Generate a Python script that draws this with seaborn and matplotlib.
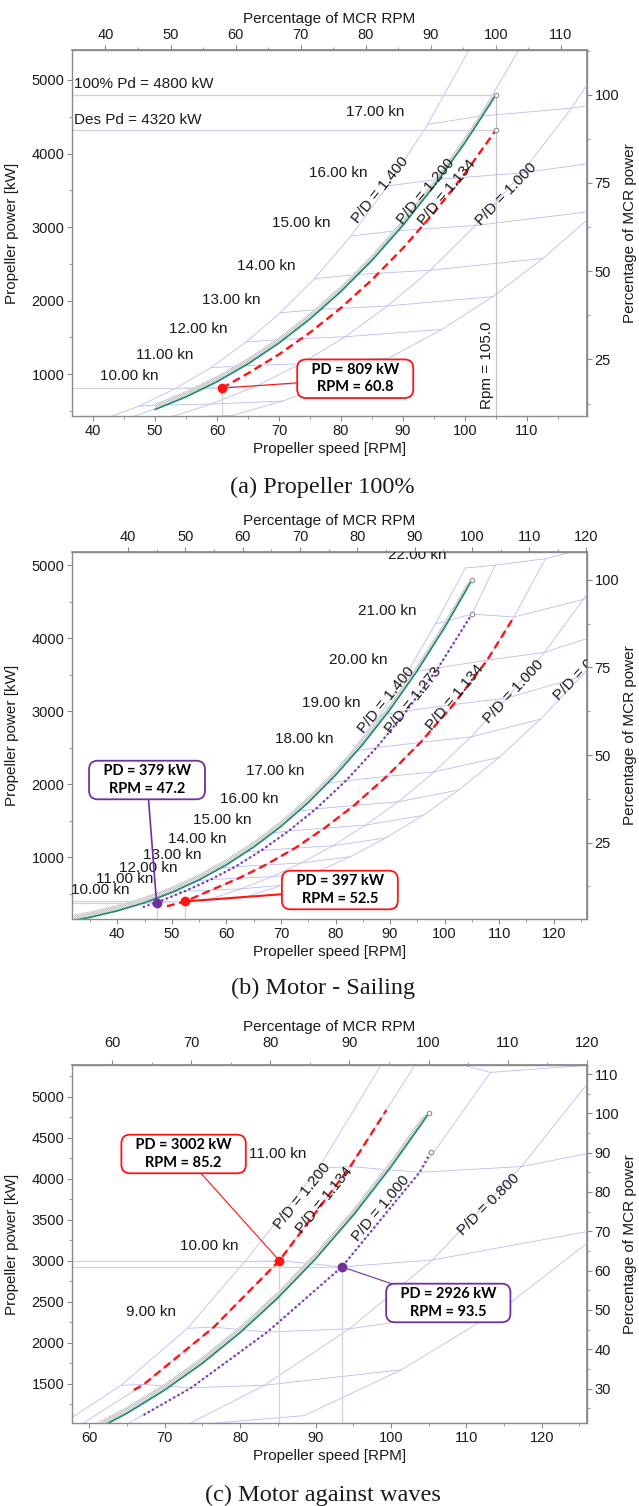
import matplotlib
matplotlib.use("Agg")
import matplotlib.pyplot as plt
import seaborn as sns
from matplotlib.ticker import MultipleLocator, AutoMinorLocator, FixedLocator

sns.set_theme(style="ticks")
plt.rcParams["font.family"] = ["Liberation Sans", "DejaVu Sans"]
plt.rcParams["hatch.linewidth"] = 0.6

MCR_RPM = 105.0
MCR_KW = 4800.0

# ---------------- shared engine curve (green) with hatched margin ----------------
engine_rpm = [32, 35, 40, 45, 50, 55, 60, 65, 70, 75, 80, 85, 90, 95, 100, 104, 105]
engine_kw = [136, 178, 266, 378, 518, 690, 896, 1139, 1422, 1749, 2123, 2546, 3023, 3555, 4146, 4664, 4800]
engine_margin_kw = [216, 258, 346, 458, 598, 770, 976, 1219, 1502, 1829, 2203, 2626, 3103, 3635, 4226, 4744, 4810]

# ---------------- panel (a) Propeller 100% ----------------
a_speed_kn = [8, 9, 10, 11, 12, 13, 14, 15, 16, 17, 18]
a_labeled_kn = [10, 11, 12, 13, 14, 15, 16, 17]
a_pd = ["1.400", "1.200", "1.000", "0.800"]
a_grid_rpm = [
    [41.9, 47.4, 53.2, 59.0, 64.7, 70.2, 75.7, 81.6, 87.5, 94.0, 100.6],
    [45.7, 51.7, 58.0, 64.2, 70.5, 76.5, 82.5, 88.9, 95.4, 102.4, 109.6],
    [52.3, 59.1, 66.4, 73.5, 80.7, 87.5, 94.4, 101.7, 109.2, 117.2, 125.5],
    [62.4, 70.6, 79.2, 87.7, 96.3, 104.5, 112.6, 121.4, 130.3, 139.0, 148.0],
]
a_grid_kw = [
    [390, 565, 800, 1086, 1436, 1834, 2297, 2877, 3558, 4397, 5400],
    [400, 579, 820, 1113, 1472, 1880, 2354, 2949, 3647, 4507, 5535],
    [410, 593, 840, 1140, 1508, 1926, 2412, 3021, 3736, 4617, 5670],
    [437, 633, 896, 1216, 1608, 2054, 2573, 3222, 3985, 4925, 6048],
]
a_engine_start_rpm = 50
a_red_rpm = [60.8, 65, 70, 75, 80, 85, 90, 95, 100, 105]
a_red_kw = [809, 1010, 1268, 1565, 1900, 2283, 2712, 3193, 3728, 4320]
a_red_point = (60.8, 809)
a_full_pd_kw = 4800
a_des_pd_kw = 4320
a_rpm_limit = 105.0
a_top_ticks = [40, 50, 60, 70, 80, 90, 100, 110]

# ---------------- panel (b) Motor - Sailing ----------------
b_speed_kn = [10, 11, 12, 13, 14, 15, 16, 17, 18, 19, 20, 21, 22]
b_labeled_kn = b_speed_kn
b_pd = ["1.400", "1.273", "1.134", "1.000", "0.800"]
b_grid_rpm = [
    [45.75, 50.2, 54.5, 58.9, 63.5, 68.2, 72.9, 77.8, 83.0, 88.1, 93.1, 98.3, 103.8],
    [47.2, 52.4, 57.1, 61.6, 66.4, 71.4, 76.4, 81.9, 87.5, 93.0, 98.8, 105.0, 109.3],
    [52.5, 57.2, 62.3, 67.2, 72.6, 78.0, 83.4, 89.4, 95.6, 101.6, 107.8, 112.7, 118.5],
    [56.0, 62.7, 68.3, 73.7, 79.5, 85.5, 91.5, 98.1, 104.8, 111.4, 118.3, 125.4, 132.6],
    [62.8, 70.4, 76.7, 82.7, 89.2, 96.0, 102.6, 110.0, 117.6, 125.0, 132.7, 140.6, 148.7],
]
b_grid_kw = [
    [374, 525, 680, 853, 1072, 1333, 1629, 2008, 2451, 2944, 3523, 4194, 4961],
    [379, 536, 694, 870, 1093, 1360, 1662, 2048, 2500, 3003, 3593, 4330, 5000],
    [397, 551, 714, 896, 1126, 1400, 1710, 2108, 2574, 3091, 3699, 4290, 5089],
    [404, 567, 734, 921, 1158, 1440, 1759, 2169, 2647, 3180, 3805, 4530, 5358],
    [441, 620, 802, 1007, 1265, 1573, 1922, 2369, 2892, 3474, 4157, 4949, 5854],
]
b_engine_start_rpm = 32
b_purple_rpm = [44.7, 47.2, 52.4, 57.1, 61.6, 66.4, 71.4, 76.4, 81.9, 87.5, 93.0, 98.8, 105.0]
b_purple_kw = [319, 379, 536, 694, 870, 1093, 1360, 1662, 2048, 2500, 3003, 3593, 4330]
b_red_rpm = [49.1, 52.5, 57.2, 62.3, 67.2, 72.6, 78.0, 83.4, 89.4, 95.6, 101.6, 107.8, 112.7]
b_red_kw = [330, 397, 551, 714, 896, 1126, 1400, 1710, 2108, 2574, 3091, 3699, 4290]
b_purple_point = (47.2, 379)
b_red_point = (52.5, 397)
b_top_ticks = [40, 50, 60, 70, 80, 90, 100, 110, 120]

# ---------------- panel (c) Motor against waves ----------------
c_speed_kn = [7, 8, 9, 10, 11, 12]
c_labeled_kn = [9, 10, 11]
c_pd = ["1.200", "1.134", "1.000", "0.800", "0.600"]
c_grid_rpm = [
    [56.1, 64.2, 73.0, 80.6, 90.4, 99.4],
    [58.9, 67.2, 76.5, 85.2, 94.6, 104.1],
    [64.3, 73.5, 83.6, 93.5, 103.8, 113.2],
    [72.8, 83.2, 94.5, 105.5, 117.3, 128.1],
    [88.5, 101.4, 115.3, 128.6, 142.0, 155.0],
]
c_grid_kw = [
    [990, 1480, 2176, 2989, 4129, 5500],
    [1000, 1490, 2190, 3002, 4150, 5520],
    [970, 1450, 2130, 2926, 4080, 5300],
    [990, 1480, 2170, 3010, 4150, 5400],
    [1110, 1670, 2450, 3400, 4600, 6000],
]
c_engine_start_rpm = 32
c_red_rpm = [65.9, 67.2, 76.5, 85.2, 94.6, 99.4]
c_red_kw = [1423, 1490, 2190, 3002, 4150, 4840]
c_purple_rpm = [67.2, 73.5, 83.6, 93.5, 103.8, 105.3]
c_purple_kw = [1118, 1450, 2130, 2926, 4080, 4332]
c_red_point = (85.2, 3002)
c_purple_point = (93.5, 2926)
c_top_ticks = [60, 70, 80, 90, 100, 110, 120]

# ---------------- styles ----------------
GRID = "#bcbcf4"
REF = "#d2d2de"
GREEN = "#1f8a6e"
RED = "#ff1414"
PURPLE = "#7030a0"
SPINE = "#8a8a8a"
TXT = "#1a1a1a"
BOXFONT = ["Lato", "DejaVu Sans"]
CAPTIONS = ["(a) Propeller 100%", "(b) Motor - Sailing", "(c) Motor against waves"]


def fmt_box(kw, rpm):
    return f"   PD = {kw} kW   \nRPM = {rpm}"


def base_axes(ax, xlim, ylim, xstep, ystep, top_ticks, rstep, toppad, caption, cap_y):
    ax.set_xlim(*xlim)
    ax.set_ylim(*ylim)
    ax.xaxis.set_major_locator(MultipleLocator(xstep))
    ax.yaxis.set_major_locator(MultipleLocator(ystep))
    ax.xaxis.set_minor_locator(AutoMinorLocator(2))
    ax.yaxis.set_minor_locator(AutoMinorLocator(2))
    for s in ax.spines.values():
        s.set_color(SPINE)
        s.set_linewidth(1.0)
    ax.tick_params(which="major", length=3.5, width=0.8, color=SPINE, labelsize=10.5,
                   labelcolor=TXT, pad=2, top=False, right=False)
    ax.tick_params(which="minor", length=2, width=0.6, color=SPINE, top=False, right=False)
    ax.set_xlabel("Propeller speed [RPM]", fontsize=11, color=TXT, labelpad=3)
    ax.set_ylabel("Propeller power [kW]", fontsize=11, color=TXT, labelpad=9)

    secx = ax.secondary_xaxis("top", functions=(lambda r: r / MCR_RPM * 100,
                                                 lambda p: p * MCR_RPM / 100))
    secx.xaxis.set_major_locator(FixedLocator(top_ticks))
    secx.xaxis.set_minor_locator(FixedLocator([t + 5 for t in top_ticks[:-1]]))
    secx.tick_params(which="major", length=3.5, width=0.8, color=SPINE, labelsize=10.5,
                     labelcolor=TXT, pad=toppad)
    secx.tick_params(which="minor", length=2, width=0.6, color=SPINE)
    secx.spines["top"].set_color(SPINE)
    secx.set_xlabel("Percentage of MCR RPM", fontsize=11, color=TXT, labelpad=4)

    secy = ax.secondary_yaxis("right", functions=(lambda k: k / MCR_KW * 100,
                                                   lambda p: p * MCR_KW / 100))
    secy.yaxis.set_major_locator(MultipleLocator(rstep))
    secy.yaxis.set_minor_locator(AutoMinorLocator(2))
    secy.tick_params(which="major", length=3.5, width=0.8, color=SPINE, labelsize=10.5,
                     labelcolor=TXT, pad=2)
    secy.tick_params(which="minor", length=2, width=0.6, color=SPINE)
    secy.spines["right"].set_color(SPINE)
    secy.set_ylabel("Percentage of MCR power", fontsize=11, color=TXT, labelpad=3)

    fig.text(0.505, cap_y, caption, ha="center", va="center", fontsize=17.5,
             family=["Liberation Serif", "DejaVu Serif"], color=TXT)


def draw_grid(ax, grid_rpm, grid_kw):
    for rpms, kws in zip(grid_rpm, grid_kw):
        ax.plot(rpms, kws, color=GRID, lw=0.6, zorder=1)
    for i in range(len(grid_rpm[0])):
        ax.plot([r[i] for r in grid_rpm], [k[i] for k in grid_kw], color=GRID, lw=0.6, zorder=1)


def draw_engine(ax, start):
    idx = [i for i, r in enumerate(engine_rpm) if r >= start]
    xr = [engine_rpm[i] for i in idx]
    lo = [engine_kw[i] for i in idx]
    hi = [engine_margin_kw[i] for i in idx]
    ax.fill_between(xr, lo, hi, facecolor="white", edgecolor="#ababab", hatch="/" * 14,
                    lw=0, zorder=3)
    sns.lineplot(x=xr, y=lo, ax=ax, color=GREEN, lw=1.2, sort=False, estimator=None,
                 zorder=4, legend=False)
    ax.plot([xr[-1]], [lo[-1]], "o", ms=3.2, mfc="white", mec="#8f8f8f", mew=0.8, zorder=6)


def op_curve(ax, xs, ys, color, style, lw, end_marker=False):
    sns.lineplot(x=xs, y=ys, ax=ax, color=color, lw=lw, linestyle=style, sort=False,
                 estimator=None, zorder=5, legend=False)
    if end_marker:
        ax.plot([xs[-1]], [ys[-1]], "o", ms=3.2, mfc="white", mec="#8f8f8f", mew=0.8, zorder=6)


def point_refs(ax, pt):
    x0, y0 = ax.get_xlim()[0], ax.get_ylim()[0]
    ax.plot([pt[0], pt[0]], [y0, pt[1]], color=REF, lw=0.9, zorder=2)
    ax.plot([x0, pt[0]], [pt[1], pt[1]], color=REF, lw=0.9, zorder=2)


def box(ax, pt, center, color, lw_line):
    ax.plot([pt[0]], [pt[1]], "o", color=color, ms=6, zorder=7)
    ax.annotate(fmt_box(pt[1], pt[0]), xy=pt, xytext=center, textcoords="data",
                ha="center", va="center", fontsize=10.5, fontweight="bold",
                family=BOXFONT, linespacing=1.3, color="black", zorder=8,
                bbox=dict(boxstyle="round,pad=0.25,rounding_size=0.6", fc="white",
                          ec=color, lw=1.3),
                arrowprops=dict(arrowstyle="-", color=color, lw=lw_line,
                                shrinkA=0, shrinkB=0))


def labels(ax, items, fs=11):
    for s, x, y, r in items:
        ax.text(x, y, s, ha="center", va="center", fontsize=fs, color=TXT,
                rotation=r, rotation_mode="anchor", clip_on=True, zorder=5)


fig = plt.figure(figsize=(6.39, 15.06), dpi=100)
H = 1506.0
W = 639.0

# ======================= panel (a) =======================
axa = fig.add_axes([72 / W, 1 - 416 / H, 515 / W, 366 / H])
base_axes(axa, (36.6, 119.7), (430, 5408), 10, 1000, a_top_ticks, 25, 2, CAPTIONS[0], 1 - 487 / H)
draw_grid(axa, a_grid_rpm, a_grid_kw)
axa.plot([36.6, a_rpm_limit], [a_full_pd_kw, a_full_pd_kw], color=REF, lw=1.0, zorder=2)
axa.plot([36.6, a_rpm_limit], [a_des_pd_kw, a_des_pd_kw], color=REF, lw=1.0, zorder=2)
axa.plot([a_rpm_limit, a_rpm_limit], [430, a_full_pd_kw], color="#c4c4cc", lw=0.9, zorder=2)
point_refs(axa, a_red_point)
draw_engine(axa, a_engine_start_rpm)
op_curve(axa, a_red_rpm, a_red_kw, RED, (0, (3.4, 1.9)), 1.7, end_marker=True)
a_speed_pos = [(45.8, 973), (51.5, 1259), (56.9, 1608), (62.3, 2007), (67.95, 2469),
               (73.6, 3050), (79.6, 3730), (85.6, 4569)]
labels(axa, [(f"{v:.2f} kn", p[0], p[1], 0) for v, p in zip(a_labeled_kn, a_speed_pos)])
a_pd_pos = [(86.4, 3503, 51), (93.7, 3481, 50), (97.1, 3467, 50), (106.7, 3449, 46)]
a_pd_shown = ["1.400", "1.200", "1.134", "1.000"]
labels(axa, [(f"P/D = {s}", p[0], p[1], p[2]) for s, p in zip(a_pd_shown, a_pd_pos)])
axa.text(36.9, 4941, f"100% Pd = {a_full_pd_kw} kW", ha="left", va="center",
         fontsize=11, color=TXT, zorder=5)
axa.text(36.9, 4456, f"Des Pd = {a_des_pd_kw} kW", ha="left", va="center",
         fontsize=11, color=TXT, zorder=5)
axa.text(103.6, 1122, f"Rpm = {a_rpm_limit:.1f}", rotation=90, ha="center", va="center",
         fontsize=11, color=TXT, zorder=5)
box(axa, a_red_point, (82.3, 937), RED, 0.8)

# ======================= panel (b) =======================
axb = fig.add_axes([72 / W, 1 - 919 / H, 515 / W, 367 / H])
base_axes(axb, (31.7, 126.1), (155, 5180), 10, 1000, b_top_ticks, 25, 2, CAPTIONS[1], 1 - 988 / H)
draw_grid(axb, b_grid_rpm, b_grid_kw)
point_refs(axb, b_purple_point)
point_refs(axb, b_red_point)
draw_engine(axb, b_engine_start_rpm)
op_curve(axb, b_purple_rpm, b_purple_kw, PURPLE, (0, (0.9, 1.3)), 1.6, end_marker=True)
op_curve(axb, b_red_rpm, b_red_kw, RED, (0, (3.4, 1.9)), 1.7)
b_speed_pos = [(36.9, 548), (41.35, 698), (45.6, 853), (50.0, 1027), (54.6, 1246),
               (59.3, 1506), (64.1, 1803), (69.0, 2181), (74.2, 2624), (79.2, 3117),
               (84.25, 3697), (89.4, 4368), (94.9, 5134)]
labels(axb, [(f"{v:.2f} kn", p[0], p[1], 0) for v, p in zip(b_labeled_kn, b_speed_pos)])
b_pd_pos = [(89.4, 3158, 51), (94.3, 3149, 51), (101.95, 3195, 50), (112.6, 3272, 47),
            (125.6, 3573, 46)]
labels(axb, [(f"P/D = {s}", p[0], p[1], p[2]) for s, p in zip(b_pd, b_pd_pos)])
box(axb, b_purple_point, (45.45, 2058), PURPLE, 1.2)
box(axb, b_red_point, (80.8, 552), RED, 1.5)

# ======================= panel (c) =======================
axc = fig.add_axes([72 / W, 1 - 1423 / H, 515 / W, 358 / H])
base_axes(axc, (57.7, 126.0), (1020, 5390), 10, 500, c_top_ticks, 10, 7, CAPTIONS[2], 1 - 1495 / H)
draw_grid(axc, c_grid_rpm, c_grid_kw)
point_refs(axc, c_red_point)
point_refs(axc, c_purple_point)
draw_engine(axc, c_engine_start_rpm)
op_curve(axc, c_red_rpm, c_red_kw, RED, (0, (3.4, 1.9)), 1.7)
op_curve(axc, c_purple_rpm, c_purple_kw, PURPLE, (0, (0.9, 1.3)), 1.6, end_marker=True)
c_speed_pos = [(68.2, 2371), (75.9, 3185), (85.0, 4300)]
labels(axc, [(f"{v:.2f} kn", p[0], p[1], 0) for v, p in zip(c_labeled_kn, c_speed_pos)])
c_pd_pos = [(88.3, 3795, 51), (91.2, 3742, 51), (98.7, 3640, 50), (113.0, 3689, 45)]
labels(axc, [(f"P/D = {s}", p[0], p[1], p[2]) for s, p in zip(c_pd[:4], c_pd_pos)])
box(axc, c_red_point, (72.5, 4304), RED, 0.8)
box(axc, c_purple_point, (107.6, 2485), PURPLE, 0.8)

fig.savefig("out.png", dpi=100)
